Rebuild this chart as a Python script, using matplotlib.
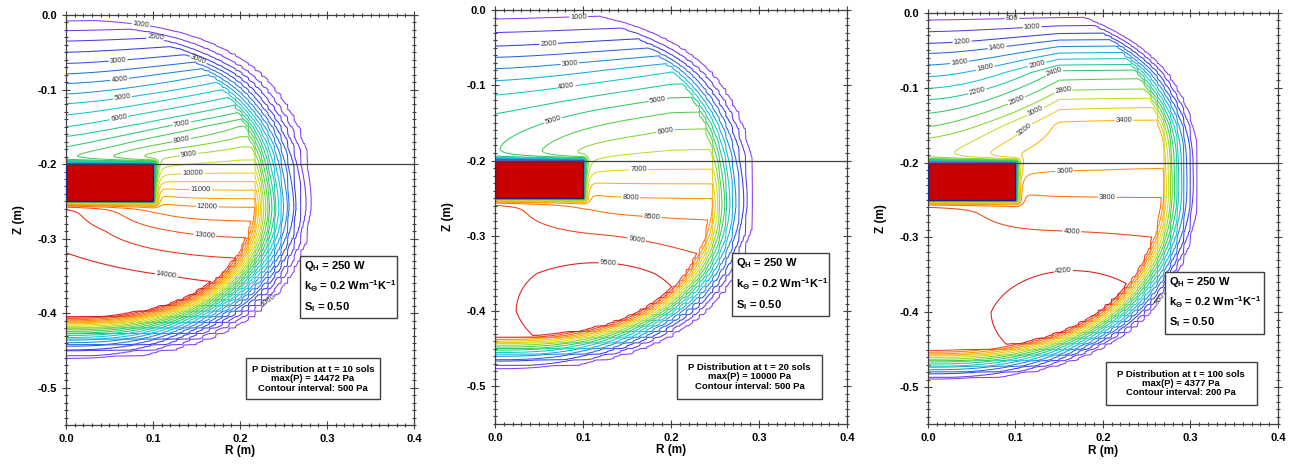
import numpy as np
import matplotlib
matplotlib.use("Agg")
import matplotlib.pyplot as plt
from matplotlib.colors import LinearSegmentedColormap, Normalize
from matplotlib.patches import Rectangle
from matplotlib.ticker import MultipleLocator, FuncFormatter

plt.rcParams['font.family'] = ['Liberation Sans', 'DejaVu Sans']
plt.rcParams['mathtext.fontset'] = 'custom'
plt.rcParams['mathtext.rm'] = 'Liberation Sans:bold'
plt.rcParams['mathtext.it'] = 'Liberation Sans:bold'
plt.rcParams['mathtext.bf'] = 'Liberation Sans:bold'

# run summary for each snapshot
SOLS = [10, 20, 100]
MAX_P = [14472, 10000, 4377]
INTERVAL = [500, 500, 200]
LOWEST = [1000, 1000, 800]
HIGHEST = [14000, 9500, 4200]

# pressure along the symmetry axis r = 0 (Pa), above and below the heater
AXIS_Z = [
    [0.0, -0.008, -0.021, -0.035, -0.05, -0.065, -0.079, -0.092, -0.106, -0.119,
     -0.134, -0.15, -0.163, -0.177, -0.19, -0.2,
     -0.26, -0.29, -0.319, -0.35, -0.38, -0.55],
    [0.0, -0.012, -0.03, -0.048, -0.063, -0.078, -0.094, -0.113, -0.138, -0.2,
     -0.26, -0.3, -0.35, -0.4, -0.55],
    [0.0, -0.0094, -0.025, -0.0405, -0.054, -0.0695, -0.085, -0.1007, -0.116,
     -0.134, -0.152, -0.1675, -0.2,
     -0.26, -0.3, -0.4, -0.55],
]
AXIS_P = [
    [700, 1000, 1500, 2000, 2500, 3000, 3500, 4000, 4500, 5000,
     5500, 6000, 6500, 7000, 7500, 7700,
     13650, 13800, 14000, 14300, 14472, 14472],
    [700, 1000, 1500, 2000, 2500, 3000, 3500, 4000, 4500, 4950,
     9200, 9280, 9320, 9320, 9320],
    [650, 800, 1000, 1200, 1400, 1600, 1800, 2000, 2200,
     2400, 2600, 2800, 2950,
     4080, 4100, 4120, 4120],
]

# pressure jump across the heater (above / below) and upward tilt of the isobars
JUMP_UP = [1730, 1700, 580]
JUMP_DN = [1800, 1100, 240]
TILT = [0.6, 0.4, 2.0]
TILT_R = [0.2, 0.2, 0.15]

# off-axis pressure maximum near the bottom of the vapour zone
BULGE_P = [0, 800, 300]
BULGE_R = [0.10, 0.13, 0.17]
BULGE_Z = [-0.38, -0.39, -0.40]

# condensation front: centre depth, radial and vertical semi-axes, band limits
FRONT_A = [0.29, 0.297, 0.31]
FRONT_ZC = [-0.22, -0.22, -0.20]
FRONT_B_UP = [0.285, 0.29, 0.30]
FRONT_B_DN = [0.245, 0.257, 0.29]
FRONT_IN = [0.75, 0.83, 0.865]
FRONT_OUT = [1.09, 1.10, 1.13]

HEATER_R = 0.1
HEATER_TOP = -0.2
HEATER_BOT = -0.25

# contour labels: (level, r, z)
LABELS = [
    [(1000, 0.087, -0.006), (2000, 0.104, -0.025), (3000, 0.156, -0.049),
     (3000, 0.060, -0.060), (4000, 0.062, -0.089), (5000, 0.066, -0.119),
     (6000, 0.064, -0.151), (7000, 0.135, -0.156), (8000, 0.135, -0.177),
     (9000, 0.143, -0.199), (10000, 0.146, -0.218), (11000, 0.155, -0.241),
     (12000, 0.162, -0.268), (13000, 0.159, -0.301), (14000, 0.116, -0.344),
     (1000, 0.212, -0.365)],
    [(1000, 0.095, -0.009), (2000, 0.061, -0.043), (3000, 0.085, -0.073),
     (4000, 0.083, -0.114), (5000, 0.072, -0.164), (5000, 0.186, -0.124),
     (6000, 0.195, -0.167), (7000, 0.163, -0.208), (8000, 0.154, -0.246),
     (8500, 0.179, -0.271), (9000, 0.163, -0.294), (9500, 0.129, -0.332)],
    [(800, 0.096, -0.007), (1000, 0.119, -0.017), (1200, 0.039, -0.038),
     (1400, 0.079, -0.045), (1600, 0.036, -0.067), (1800, 0.066, -0.075),
     (2000, 0.125, -0.070), (2200, 0.058, -0.110), (2400, 0.147, -0.088),
     (2600, 0.105, -0.125), (2800, 0.155, -0.116), (3000, 0.133, -0.150),
     (3200, 0.128, -0.174), (3400, 0.224, -0.153), (3600, 0.156, -0.214),
     (3800, 0.205, -0.246), (4000, 0.165, -0.283), (4200, 0.155, -0.345),
     (800, 0.243, -0.365)],
]

# axes placement in figure fraction
AX_POS = [
    [0.0511, 0.1015, 0.2696, 0.8668],
    [0.3834, 0.1036, 0.2727, 0.8753],
    [0.7188, 0.1027, 0.2711, 0.8698],
]
QBOX = [(0.672, 0.261, 0.279, 0.151), (0.672, 0.261, 0.277, 0.152), (0.677, 0.221, 0.284, 0.150)]
PBOX = [(0.517, 0.063, 0.385, 0.100), (0.516, 0.061, 0.414, 0.106), (0.508, 0.047, 0.431, 0.105)]

cmap = LinearSegmentedColormap.from_list(
    'front', ['#8a3cf0', '#3a3adf', '#1f7fe0', '#10c8d8', '#20c878',
              '#5fd23a', '#d8e020', '#ffb000', '#ff6a10', '#e01818'])


def heater_coords(r, z):
    # elliptic coordinates around the heater disc (a slit of half-width HEATER_R)
    c = HEATER_R
    y = z - 0.5 * (HEATER_TOP + HEATER_BOT)
    d1 = np.hypot(r - c, y)
    d2 = np.hypot(r + c, y)
    mu = np.arccosh(np.maximum((d1 + d2) / (2 * c), 1.0))
    nu = -np.sign(y) * np.arccos(np.clip((d2 - d1) / (2 * c), -1.0, 1.0))
    return mu, nu


def heater_term(mu, nu, k):
    j = np.where(nu < 0, JUMP_UP[k], JUMP_DN[k])
    return j * nu * np.exp(-mu / 0.6)


def front_distance(k, R, Z):
    dz = Z - FRONT_ZC[k]
    s_up = np.sqrt((R / FRONT_A[k]) ** 2 + (dz / FRONT_B_UP[k]) ** 2)
    s_dn = ((R / FRONT_A[k]) ** 2.5 + (np.abs(dz) / FRONT_B_DN[k]) ** 2.5) ** 0.4
    return np.where(dz > 0, s_up, s_dn)


def pressure(k, R, Z):
    za = np.array(AXIS_Z[k])
    pa = np.array(AXIS_P[k], dtype=float)
    mu_a, nu_a = heater_coords(np.zeros_like(za), za)
    p0 = pa - heater_term(mu_a, nu_a, k)
    order = np.argsort(za)
    za, p0 = za[order], p0[order]

    # isobars rise away from the axis in the upper part, flat beside the heater
    tilt = TILT[k] * np.clip(-Z / 0.08, 0, 1) ** 1.5 * np.clip((Z + 0.21) / 0.06, 0, 1)
    F = np.interp(Z - tilt * np.minimum(R, TILT_R[k]) ** 2, za, p0)
    mu, nu = heater_coords(R, Z)
    F = F + heater_term(mu, nu, k)
    F = F + BULGE_P[k] * np.exp(-((R - BULGE_R[k]) / 0.09) ** 2 - ((Z - BULGE_Z[k]) / 0.07) ** 2)

    # front position evaluated on the coarse model mesh gives the stepped outline
    s_in, s_out = FRONT_IN[k], FRONT_OUT[k]
    s = front_distance(k, R, Z)
    cell = 0.0075
    s_mesh = front_distance(k, (np.floor(R / cell) + 0.5) * cell, (np.floor(Z / cell) + 0.5) * cell)
    band = np.clip((s - s_in) / (s_out - s_in), 0, 1)
    rough = 0.7 * band + 0.3 * np.exp(-((s - s_in) / 0.02) ** 2)
    s = s + np.minimum(rough, 1.0) * (s_mesh - s)
    t = np.clip((s_out - s) / (s_out - s_in), 0, 1)
    g = t ** 2.3

    dx = np.maximum(R - HEATER_R, 0)
    dy = np.maximum(np.maximum(Z - HEATER_TOP, HEATER_BOT - Z), 0)
    h = 1 - np.exp(-np.hypot(dx, dy) / 0.0025)
    return F * g * h


def snap_to_level(cs, level, x, y):
    # nearest vertex on the wanted isobar, so the label lands on that line
    idx = int(np.argmin(np.abs(cs.levels - level)))
    best, pt = np.inf, (x, y)
    for seg in cs.allsegs[idx]:
        if len(seg) == 0:
            continue
        d = np.hypot(seg[:, 0] - x, seg[:, 1] - y)
        i = int(np.argmin(d))
        if d[i] < best:
            best, pt = d[i], (seg[i, 0], seg[i, 1])
    return pt


r = np.linspace(0, 0.4, 801)
z = np.linspace(-0.55, 0, 1101)
R, Z = np.meshgrid(r, z)

fig = plt.figure(figsize=(12.91, 4.73), dpi=100)
fmt_axis = FuncFormatter(lambda v, _: '0.0' if abs(v) < 1e-9 else f'{v:.1f}')

for k in range(3):
    ax = fig.add_axes(AX_POS[k])
    P = pressure(k, R, Z)
    levels = np.arange(LOWEST[k], HIGHEST[k] + 1, INTERVAL[k])
    cs = ax.contour(R, Z, P, levels=levels, cmap=cmap,
                    norm=Normalize(LOWEST[k], HIGHEST[k]), linewidths=0.75, zorder=2)

    spots = [snap_to_level(cs, lv, lr, lz) for lv, lr, lz in LABELS[k]]
    ax.clabel(cs, manual=spots, fmt='%d', fontsize=5.5,
              inline=True, inline_spacing=1, colors='#303030')

    ax.add_patch(Rectangle((0, HEATER_BOT), HEATER_R, HEATER_TOP - HEATER_BOT,
                           facecolor='#c80000', edgecolor='#1a237e', lw=1.0, zorder=3))
    ax.axhline(-0.2, color='#404040', lw=0.9, zorder=4)

    ax.set_xlim(0, 0.4)
    ax.set_ylim(-0.55, 0)
    ax.xaxis.set_major_locator(MultipleLocator(0.1))
    ax.xaxis.set_minor_locator(MultipleLocator(0.01))
    ax.yaxis.set_major_locator(MultipleLocator(0.1))
    ax.yaxis.set_minor_locator(MultipleLocator(0.01))
    ax.xaxis.set_major_formatter(fmt_axis)
    ax.yaxis.set_major_formatter(fmt_axis)
    ax.tick_params(which='both', direction='inout', top=True, right=True,
                   color='#404040', width=0.8, labelsize=8)
    ax.tick_params(which='major', length=6)
    ax.tick_params(which='minor', length=3.5)
    for lab in ax.get_xticklabels() + ax.get_yticklabels():
        lab.set_fontweight('bold')
    for sp in ax.spines.values():
        sp.set_color('#404040')
        sp.set_linewidth(0.9)
    ax.set_xlabel('R (m)', fontsize=8.5, fontweight='bold', labelpad=1)
    ax.set_ylabel('Z (m)', fontsize=8.5, fontweight='bold', labelpad=9)

    # model parameters
    bx, by, bw, bh = QBOX[k]
    ax.add_patch(Rectangle((bx, by), bw, bh, transform=ax.transAxes, facecolor='white',
                           edgecolor='#404040', lw=1.0, zorder=5))
    q_lines = ['Q$_H$ = 250 W', 'k$_Θ$ = 0.2 Wm$^{-1}$K$^{-1}$', 'S$_l$ = 0.50']
    for i, txt in enumerate(q_lines):
        ax.text(bx + 0.013, by + bh * (0.84 - 0.33 * i), txt, transform=ax.transAxes,
                ha='left', va='center', fontsize=8, fontweight='bold', zorder=6)

    # snapshot summary
    bx, by, bw, bh = PBOX[k]
    ax.add_patch(Rectangle((bx, by), bw, bh, transform=ax.transAxes, facecolor='white',
                           edgecolor='#404040', lw=1.0, zorder=5))
    ax.text(bx + bw / 2, by + bh / 2,
            f'P Distribution at t = {SOLS[k]} sols\nmax(P) = {MAX_P[k]} Pa\n'
            f'Contour interval: {INTERVAL[k]} Pa',
            transform=ax.transAxes, ha='center', va='center', fontsize=6.8,
            fontweight='bold', linespacing=1.05, zorder=6)

fig.savefig('out.png', dpi=100)
